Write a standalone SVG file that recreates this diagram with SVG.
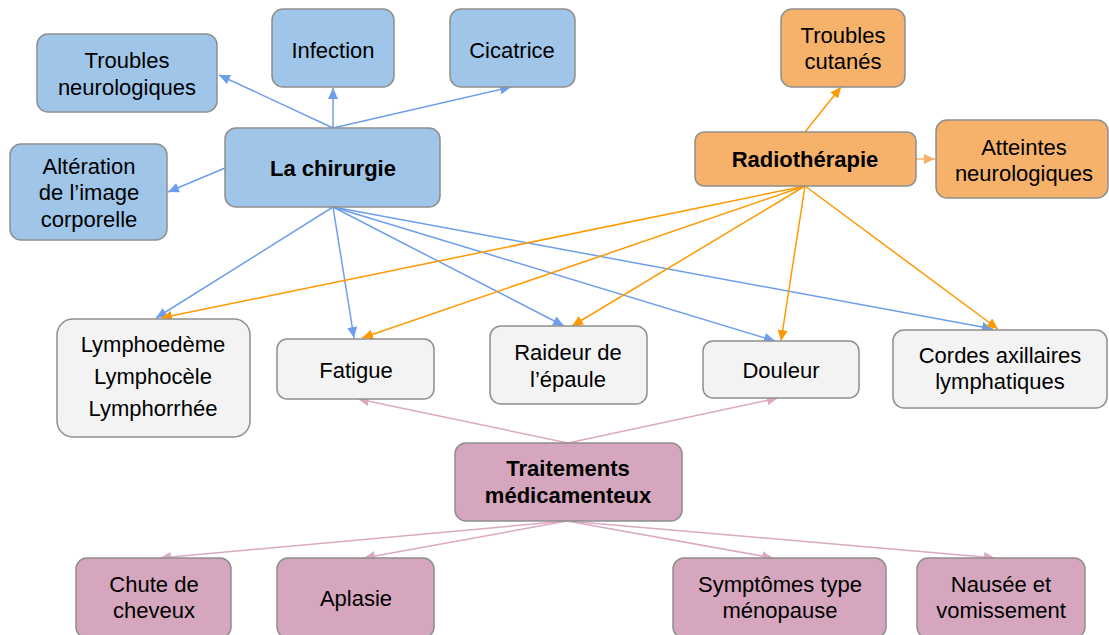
<svg xmlns="http://www.w3.org/2000/svg" width="1109" height="635" viewBox="0 0 1109 635">
<style>
.n rect{stroke:#8f8f8f;stroke-width:1.5}
.blue rect{fill:#9fc5e8}
.orange rect{fill:#f6b26b}
.gray rect{fill:#f3f3f3}
.pink rect{fill:#d5a6bd}
text{font-family:"Liberation Sans",Arial,sans-serif;font-size:22px;fill:#000;text-anchor:middle}
.b{font-weight:bold}
.cb line{stroke:#6d9eeb;stroke-width:1.5;marker-end:url(#ab)}
.co line{stroke:#ff9900;stroke-width:1.5;marker-end:url(#ao)}
.co line.l{stroke:#f6b26b;marker-end:url(#al)}
.cp line{stroke:#dba9c2;stroke-width:1.5;marker-end:url(#ap)}
</style>
<defs>
<marker id="ab" markerUnits="userSpaceOnUse" markerWidth="12" markerHeight="10" refX="11" refY="5" orient="auto"><path d="M0,0 L11,5 L0,10 z" fill="#6d9eeb"/></marker>
<marker id="ao" markerUnits="userSpaceOnUse" markerWidth="12" markerHeight="10" refX="11" refY="5" orient="auto"><path d="M0,0 L11,5 L0,10 z" fill="#ff9900"/></marker>
<marker id="al" markerUnits="userSpaceOnUse" markerWidth="12" markerHeight="10" refX="11" refY="5" orient="auto"><path d="M0,0 L11,5 L0,10 z" fill="#f6b26b"/></marker>
<marker id="ap" markerUnits="userSpaceOnUse" markerWidth="12" markerHeight="10" refX="11" refY="5" orient="auto"><path d="M0,0 L11,5 L0,10 z" fill="#dba9c2"/></marker>
</defs>
<rect width="1109" height="635" fill="#fff"/>
<g id="connectors">
<g class="cb">
<line x1="333" y1="128" x2="219" y2="75"/>
<line x1="333" y1="128" x2="333" y2="88"/>
<line x1="333" y1="128" x2="511" y2="87"/>
<line x1="225" y1="168" x2="168" y2="192"/>
<line x1="333" y1="207" x2="156" y2="318"/>
<line x1="333" y1="207" x2="354" y2="338"/>
<line x1="333" y1="207" x2="564" y2="326"/>
<line x1="333" y1="207" x2="775" y2="341"/>
<line x1="333" y1="207" x2="993" y2="329"/>
</g>
<g class="co">
<line x1="805" y1="132" x2="841" y2="87"/>
<line class="l" x1="916" y1="159" x2="935" y2="159"/>
<line x1="805" y1="186" x2="161" y2="318"/>
<line x1="805" y1="186" x2="362" y2="338"/>
<line x1="805" y1="186" x2="572" y2="326"/>
<line x1="805" y1="186" x2="781" y2="341"/>
<line x1="805" y1="186" x2="998" y2="329"/>
</g>
<g class="cp">
<line x1="568" y1="443" x2="358" y2="399"/>
<line x1="568" y1="443" x2="778" y2="398"/>
<line x1="567" y1="521" x2="160" y2="558"/>
<line x1="567" y1="521" x2="364" y2="558"/>
<line x1="567" y1="521" x2="773" y2="558"/>
<line x1="567" y1="521" x2="995" y2="558"/>
</g>
</g>
<g id="troubles-neuro" class="n blue"><rect x="37" y="34" width="180" height="78" rx="11"/><text x="127" y="68">Troubles</text><text x="127" y="95">neurologiques</text></g>
<g id="infection" class="n blue"><rect x="272" y="9" width="122" height="78" rx="11"/><text x="333" y="58">Infection</text></g>
<g id="cicatrice" class="n blue"><rect x="450" y="9" width="125" height="78" rx="11"/><text x="512" y="58">Cicatrice</text></g>
<g id="chirurgie" class="n blue"><rect x="225" y="128" width="215" height="79" rx="11"/><text class="b" x="333" y="176">La chirurgie</text></g>
<g id="alteration" class="n blue"><rect x="10" y="144" width="157" height="96" rx="11"/><text x="89" y="174">Altération</text><text x="89" y="200">de l’image</text><text x="89" y="227">corporelle</text></g>
<g id="troubles-cutanes" class="n orange"><rect x="781" y="9" width="124" height="78" rx="11"/><text x="843" y="43">Troubles</text><text x="843" y="69">cutanés</text></g>
<g id="radiotherapie" class="n orange"><rect x="695" y="132" width="221" height="54" rx="9"/><text class="b" x="805" y="167">Radiothérapie</text></g>
<g id="atteintes" class="n orange"><rect x="936" y="120" width="172" height="78" rx="11"/><text x="1024" y="155">Atteintes</text><text x="1024" y="181">neurologiques</text></g>
<g id="lympho" class="n gray"><rect x="57" y="319" width="193" height="118" rx="16"/><text x="153" y="352">Lymphoedème</text><text x="153" y="384">Lymphocèle</text><text x="153" y="416">Lymphorrhée</text></g>
<g id="fatigue" class="n gray"><rect x="277" y="339" width="157" height="60" rx="10"/><text x="356" y="378">Fatigue</text></g>
<g id="raideur" class="n gray"><rect x="490" y="326" width="157" height="78" rx="11"/><text x="568" y="360">Raideur de</text><text x="568" y="387">l’épaule</text></g>
<g id="douleur" class="n gray"><rect x="703" y="341" width="156" height="57" rx="10"/><text x="781" y="378">Douleur</text></g>
<g id="cordes" class="n gray"><rect x="893" y="330" width="214" height="78" rx="11"/><text x="1000" y="363">Cordes axillaires</text><text x="1000" y="389">lymphatiques</text></g>
<g id="traitements" class="n pink"><rect x="455" y="443" width="227" height="78" rx="11"/><text class="b" x="568" y="476">Traitements</text><text class="b" x="568" y="503">médicamenteux</text></g>
<g id="chute" class="n pink"><rect x="76" y="558" width="155" height="80" rx="11"/><text x="154" y="592">Chute de</text><text x="154" y="618">cheveux</text></g>
<g id="aplasie" class="n pink"><rect x="277" y="558" width="157" height="80" rx="11"/><text x="356" y="606">Aplasie</text></g>
<g id="symptomes" class="n pink"><rect x="673" y="558" width="213" height="80" rx="11"/><text x="780" y="592">Symptômes type</text><text x="780" y="618">ménopause</text></g>
<g id="nausee" class="n pink"><rect x="917" y="558" width="168" height="80" rx="11"/><text x="1001" y="592">Nausée et</text><text x="1001" y="618">vomissement</text></g>
</svg>
